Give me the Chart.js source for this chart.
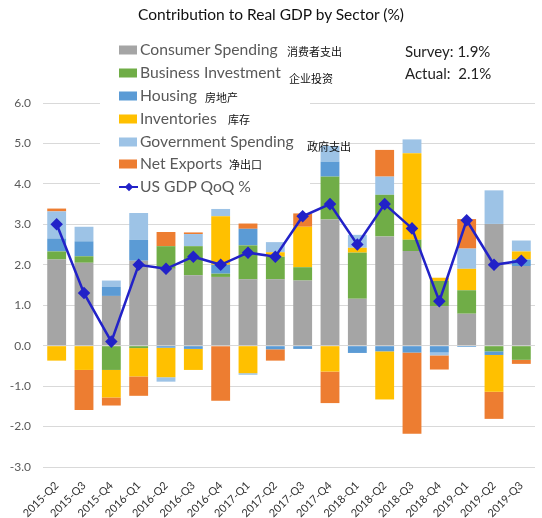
<!DOCTYPE html>
<html><head><meta charset="utf-8">
<script src="https://cdn.jsdelivr.net/npm/chart.js@4/dist/chart.umd.min.js"></script>
<style>
html,body{margin:0;padding:0;background:#fff;}
#wrap{position:relative;width:542px;height:518px;overflow:hidden;font-family:Lato,'Noto Sans',sans-serif;}
#c{position:absolute;left:0;top:0;}
.t{position:absolute;white-space:nowrap;transform:translateY(-50%);line-height:1;}
.leg{color:#595959;font-size:15.7px;}
.cn{font-family:'Noto Sans CJK SC',sans-serif;font-size:11px;color:#111;}
.sw{position:absolute;width:18px;height:9px;transform:translateY(-50%);}
#box{position:absolute;left:100px;top:38px;width:210px;height:156px;background:#fff;}
</style></head>
<body><div id="wrap">
<canvas id="c" width="542" height="518"></canvas>
<div id="box"></div>
<div class="t" id="title" style="left:0;width:542px;text-align:center;top:15px;font-size:15.5px;color:#111;">Contribution to Real GDP by Sector (%)</div>
<div class="t" style="left:405px;top:51px;font-size:15px;color:#222;">Survey: 1.9%</div>
<div class="t" style="left:405px;top:73px;font-size:15px;color:#222;">Actual:&nbsp; 2.1%</div>
</div>
<script>
const quarters = ['2015-Q2','2015-Q3','2015-Q4','2016-Q1','2016-Q2','2016-Q3','2016-Q4','2017-Q1','2017-Q2','2017-Q3','2017-Q4','2018-Q1','2018-Q2','2018-Q3','2018-Q4','2019-Q1','2019-Q2','2019-Q3'];
const consumerSpending   = [2.13,2.05,1.23,2.10,1.90,1.74,1.70,1.64,1.64,1.61,3.12,1.16,2.70,2.34,0.98,0.79,3.01,1.97];
const businessInvestment = [0.20,0.16,-0.60,-0.06,0.56,0.72,0.08,0.84,0.56,0.33,1.06,1.14,1.03,0.28,0.62,0.58,-0.14,-0.35];
const housing            = [0.32,0.37,0.22,0.52,-0.05,-0.08,0.22,0.41,-0.09,-0.08,0.37,-0.18,-0.14,-0.17,-0.17,-0.03,-0.09,0.16];
const inventories        = [-0.37,-0.60,-0.68,-0.70,-0.73,-0.52,1.20,-0.68,0.11,1.00,-0.64,0.12,-1.19,2.14,0.08,0.53,-0.91,0.20];
const governmentSpending = [0.67,0.36,0.16,0.66,-0.11,0.30,0.18,-0.04,0.25,0.00,0.39,0.32,0.45,0.34,-0.07,0.50,0.83,0.27];
const netExports         = [0.07,-0.99,-0.20,-0.48,0.35,0.04,-1.36,0.13,-0.28,0.33,-0.78,0.00,0.66,-2.01,-0.35,0.73,-0.67,-0.10];
const gdpQoQ             = [3.0,1.3,0.1,2.0,1.9,2.2,2.0,2.3,2.2,3.2,3.5,2.5,3.5,2.9,1.1,3.1,2.0,2.1];
const yTicks = [-3,-2,-1,0,1,2,3,4,5,6];

const seriesNames = ['Consumer Spending','Business Investment','Housing','Inventories','Government Spending','Net Exports','US GDP QoQ %'];
const seriesCn = ['消费者支出','企业投资','房地产','库存','政府支出','净出口',''];
const seriesColors = ['#A5A5A5','#70AD47','#5B9BD5','#FFC000','#9DC3E6','#ED7D31','#2222C8'];
const seriesData = [consumerSpending,businessInvestment,housing,inventories,governmentSpending,netExports];

// legend (HTML text)
const wrap = document.getElementById('wrap');
const rowY = [50,72.5,95.5,118.5,141.5,164,187];
const cnPos = [[287,51],[289,78],[205,97],[228,119],[307,146],[229,164]];
seriesNames.forEach((n,i)=>{
  if(i<6){
    const s=document.createElement('div');s.className='sw';
    s.style.left='119px';s.style.top=rowY[i]+'px';s.style.background=seriesColors[i];wrap.appendChild(s);
  } else {
    const l=document.createElement('div');l.style.cssText='position:absolute;left:119px;width:19px;height:2.5px;background:'+seriesColors[6]+';top:'+(rowY[i]-1.25)+'px';wrap.appendChild(l);
    const d=document.createElement('div');d.style.cssText='position:absolute;left:125.5px;width:6px;height:6px;background:'+seriesColors[6]+';transform:rotate(45deg);top:'+(rowY[i]-3)+'px';wrap.appendChild(d);
  }
  const t=document.createElement('div');t.className='t leg';t.textContent=n;
  t.style.left='140px';t.style.top=rowY[i]+'px';wrap.appendChild(t);
  if(seriesCn[i]){
    const c=document.createElement('div');c.className='t cn';c.textContent=seriesCn[i];
    c.style.left=cnPos[i][0]+'px';c.style.top=cnPos[i][1]+'px';wrap.appendChild(c);
  }
});

const datasets = seriesData.map((d,i)=>({
  type:'bar', label:seriesNames[i], data:d, backgroundColor:seriesColors[i],
  stack:'s', order:1, barPercentage:0.69, categoryPercentage:1.0, borderWidth:0
}));
datasets.push({
  type:'line', label:seriesNames[6], data:gdpQoQ, borderColor:seriesColors[6], backgroundColor:seriesColors[6],
  borderWidth:2.5, pointStyle:'rectRot', pointRadius:4.5, pointHoverRadius:4.5, tension:0, stack:'gdp', order:0
});

new Chart(document.getElementById('c'), {
  data:{labels:quarters, datasets},
  options:{
    responsive:false, animation:false, events:[],
    layout:{padding:{top:103,right:4,left:0,bottom:0}},
    plugins:{legend:{display:false},title:{display:false},tooltip:{enabled:false}},
    scales:{
      x:{stacked:true, grid:{display:false}, border:{display:false},
         ticks:{minRotation:45,maxRotation:45,autoSkip:false,padding:4,color:'#333',font:{family:'Lato',size:11}},
         afterFit:(s)=>{s.height=51;}},
      y:{stacked:true, min:-3, max:6, afterBuildTicks:(s)=>{s.ticks=yTicks.map(v=>({value:v}));},
         grid:{color:'#D9D9D9',drawTicks:false,lineWidth:1}, border:{display:false},
         ticks:{padding:12,color:'#595959',font:{family:'Lato',size:12},callback:(v)=>Number(v).toFixed(1)},
         afterFit:(s)=>{s.width=43;}}
    }
  }
});
</script>
</body></html>
